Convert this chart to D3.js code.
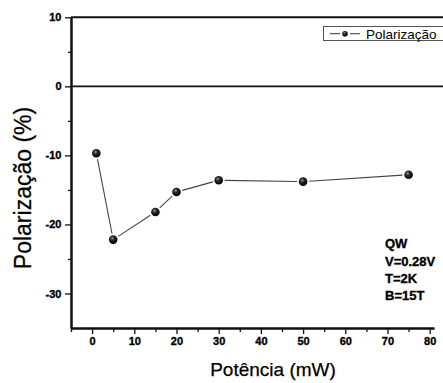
<!DOCTYPE html>
<html>
<head>
<meta charset="utf-8">
<script src="https://cdn.jsdelivr.net/npm/d3@7"></script>
<style>
  html, body { margin: 0; padding: 0; background: #fff; }
  svg { display: block; }
  svg text { font-family: "Liberation Sans", Arial, sans-serif; }
</style>
</head>
<body>
<svg id="chart" width="443" height="383"></svg>
<script>
// Laser power (mW) and circular polarization degree (%)
const potencia = [1, 5, 15, 20, 30, 50, 75];
const polarizacao = [-9.7, -22.2, -18.2, -15.3, -13.6, -13.8, -12.8];

const xMajorTicks = [0, 10, 20, 30, 40, 50, 60, 70, 80];
const xMinorTicks = [-5, 5, 15, 25, 35, 45, 55, 65, 75];
const yMajorTicks = [-30, -20, -10, 0, 10];
const yMinorTicks = [-25, -15, -5, 5];
const condicoes = ["QW", "V=0.28V", "T=2K", "B=15T"];
const serieNome = "Polarização";

const W = 443, H = 383;
const svg = d3.select("#chart");

const x = d3.scaleLinear().domain([-5, 81]).range([71, 433.9]);
const y = d3.scaleLinear().domain([-35, 10]).range([328, 17.3]);

// sphere-like marker fill
const defs = svg.append("defs");
const grad = defs.append("radialGradient").attr("id", "ball")
  .attr("cx", "40%").attr("cy", "35%").attr("r", "65%");
grad.append("stop").attr("offset", "0%").attr("stop-color", "#9a9a9a");
grad.append("stop").attr("offset", "35%").attr("stop-color", "#2a2a2a");
grad.append("stop").attr("offset", "100%").attr("stop-color", "#000");

// top frame line and zero line
svg.append("line").attr("x1", x(-5)).attr("x2", W)
  .attr("y1", y(10)).attr("y2", y(10))
  .attr("stroke", "#111").attr("stroke-width", 2);
svg.append("line").attr("x1", x(-5)).attr("x2", W)
  .attr("y1", y(0)).attr("y2", y(0))
  .attr("stroke", "#111").attr("stroke-width", 1.6);

// heavy bold text used for tick labels and the condition notes
function heavy(sel, size) {
  sel.attr("fill", "#000")
    .style("font-size", size).style("font-weight", "bold")
    .attr("stroke", "#000").attr("stroke-width", 0.35);
}

// x axis
const xAxisMinor = d3.axisBottom(x).tickValues(xMinorTicks).tickSize(4).tickSizeOuter(0).tickFormat("");
const xAxisMajor = d3.axisBottom(x).tickValues(xMajorTicks).tickSize(6).tickSizeOuter(0)
  .tickPadding(3).tickFormat(d => String(d));
const gxm = svg.append("g").attr("transform", `translate(0,${y(-35)})`).call(xAxisMinor);
const gx = svg.append("g").attr("transform", `translate(0,${y(-35)})`).call(xAxisMajor);
[gx, gxm].forEach(g => {
  g.attr("font-family", null);
  g.selectAll("path.domain").attr("stroke", "#111").attr("stroke-width", 2);
  g.selectAll(".tick line").attr("stroke", "#111").attr("stroke-width", 1.3);
});
heavy(gx.selectAll(".tick text"), "11px");

// y axis
const yAxisMinor = d3.axisLeft(y).tickValues(yMinorTicks).tickSize(3).tickSizeOuter(0).tickFormat("");
const yAxisMajor = d3.axisLeft(y).tickValues(yMajorTicks).tickSize(6).tickSizeOuter(0)
  .tickPadding(3.5).tickFormat(d => String(d));
const gym = svg.append("g").attr("transform", `translate(${x(-5)},0)`).call(yAxisMinor);
const gy = svg.append("g").attr("transform", `translate(${x(-5)},0)`).call(yAxisMajor);
[gy, gym].forEach(g => {
  g.attr("font-family", null);
  g.selectAll("path.domain").attr("stroke", "#111").attr("stroke-width", 2);
  g.selectAll(".tick line").attr("stroke", "#111").attr("stroke-width", 1.3);
});
heavy(gy.selectAll(".tick text"), "11px");

// axis titles
svg.append("text")
  .attr("x", 273).attr("y", 376)
  .attr("text-anchor", "middle")
  .style("font-size", "19px").attr("fill", "#000")
  .attr("stroke", "#000").attr("stroke-width", 0.25)
  .text("Potência (mW)");
svg.append("text")
  .attr("transform", "translate(31,188) rotate(-90)")
  .attr("text-anchor", "middle")
  .style("font-size", "23px").attr("fill", "#000")
  .attr("stroke", "#000").attr("stroke-width", 0.25)
  .text("Polarização (%)");

// connecting segments, trimmed short of each marker
const pts = potencia.map((p, i) => [x(p), y(polarizacao[i])]);
const gap = 6;
const segs = d3.pairs(pts).map(([a, b]) => {
  const dx = b[0] - a[0], dy = b[1] - a[1];
  const len = Math.hypot(dx, dy);
  const ux = dx / len, uy = dy / len;
  return [a[0] + ux * gap, a[1] + uy * gap, b[0] - ux * gap, b[1] - uy * gap];
});
svg.append("g").selectAll("line").data(segs).join("line")
  .attr("x1", d => d[0]).attr("y1", d => d[1])
  .attr("x2", d => d[2]).attr("y2", d => d[3])
  .attr("stroke", "#444").attr("stroke-width", 1.1);

svg.append("g").selectAll("circle").data(potencia).join("circle")
  .attr("cx", d => x(d))
  .attr("cy", (d, i) => y(polarizacao[i]))
  .attr("r", 4.3)
  .attr("fill", "url(#ball)");

// legend
const lg = svg.append("g");
lg.append("rect").attr("x", 323.5).attr("y", 26.5).attr("width", 130).attr("height", 14)
  .attr("fill", "#fff").attr("stroke", "#555").attr("stroke-width", 1);
lg.append("line").attr("x1", 330).attr("x2", 340).attr("y1", 33.7).attr("y2", 33.7)
  .attr("stroke", "#444").attr("stroke-width", 1.1);
lg.append("line").attr("x1", 350).attr("x2", 360).attr("y1", 33.7).attr("y2", 33.7)
  .attr("stroke", "#444").attr("stroke-width", 1.1);
lg.append("circle").attr("cx", 345).attr("cy", 33.7).attr("r", 2.8).attr("fill", "url(#ball)");
lg.append("text").attr("x", 366).attr("y", 38.6)
  .style("font-size", "13.5px").attr("fill", "#000").text(serieNome);

// measurement conditions
heavy(svg.append("g").selectAll("text").data(condicoes).join("text")
  .attr("x", 385)
  .attr("y", (d, i) => 248.3 + i * 17.2)
  .text(d => d), "13px");
</script>
</body>
</html>
